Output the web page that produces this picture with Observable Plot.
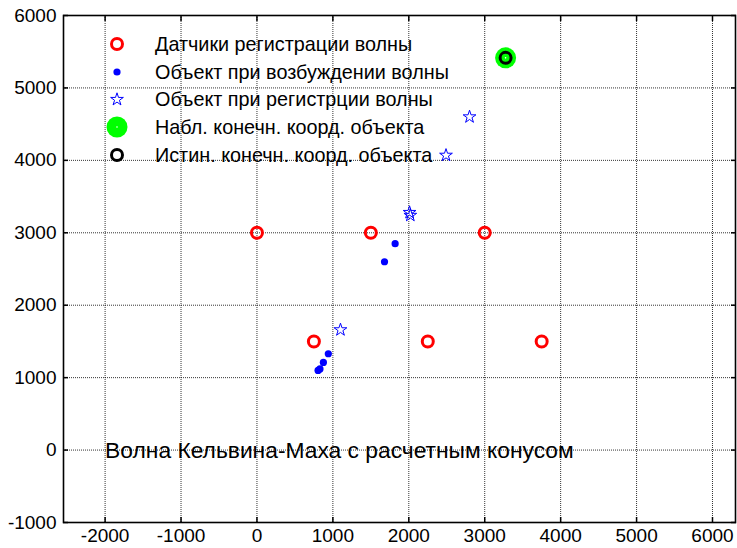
<!DOCTYPE html>
<html>
<head>
<meta charset="utf-8">
<script src="https://cdn.jsdelivr.net/npm/d3@7"></script>
<script src="https://cdn.jsdelivr.net/npm/@observablehq/plot@0.6"></script>
<style>
  html, body { margin: 0; padding: 0; background: #fff; }
  #wrap { position: relative; width: 737px; height: 548px; font-family: "Liberation Sans", Arial, sans-serif; }
  #wrap svg { display: block; }
  #legend { position: absolute; left: 0; top: 0; pointer-events: none; }
</style>
</head>
<body>
<div id="wrap"></div>
<script>
// Sensors (датчики регистрации волны)
const sensorX = [0, 1500, 3000, 750, 2250, 3750];
const sensorY = [3000, 3000, 3000, 1500, 1500, 1500];
// Object at wave excitation
const exciteX = [1820, 1680, 940, 875, 830, 805];
const exciteY = [2850, 2600, 1330, 1210, 1120, 1100];
// Object at wave registration
const registerX = [2010, 2020, 1100, 2490, 2800];
const registerY = [3280, 3240, 1660, 4070, 4600];
// Observed / true final coordinates
const observedX = [3275];
const observedY = [5415];
const trueX = [3275];
const trueY = [5415];
const xTicks = [-2000, -1000, 0, 1000, 2000, 3000, 4000, 5000, 6000];
const yTicks = [-1000, 0, 1000, 2000, 3000, 4000, 5000, 6000];
const legendLabels = [
  "Датчики регистрации волны",
  "Объект при возбуждении волны",
  "Объект при регистрции волны",
  "Набл. конечн. коорд. объекта",
  "Истин. конечн. коорд. объекта"
];
const annotation = "Волна Кельвина-Маха с расчетным конусом";

const pts = (xs, ys) => xs.map((x, i) => ({x, y: ys[i]}));

const chart = Plot.plot({
  width: 737,
  height: 548,
  marginLeft: 63,
  marginRight: 2,
  marginTop: 15,
  marginBottom: 26,
  style: {fontFamily: "Liberation Sans, Arial, sans-serif", fontSize: "19px", color: "#000", background: "#fff"},
  x: {domain: [-2548, 6303], ticks: xTicks, label: null},
  y: {domain: [-1000, 6000], ticks: yTicks, label: null},
  marks: [
    Plot.gridX(xTicks, {stroke: "#000", strokeOpacity: 0.8, strokeDasharray: "1,1"}),
    Plot.gridY(yTicks, {stroke: "#000", strokeOpacity: 0.8, strokeDasharray: "1,1"}),
    Plot.axisX(xTicks, {anchor: "bottom", label: null, tickSize: 0, tickPadding: 6, fontSize: 19, tickFormat: d => String(d)}),
    Plot.axisY(yTicks, {anchor: "left", label: null, tickSize: 0, tickPadding: 7, fontSize: 19, tickFormat: d => String(d)}),
    Plot.axisX(xTicks, {anchor: "bottom", label: null, tickSize: -5, text: null, strokeWidth: 1.5}),
    Plot.axisX(xTicks, {anchor: "top", label: null, tickSize: -5, text: null, strokeWidth: 1.5}),
    Plot.axisY(yTicks, {anchor: "left", label: null, tickSize: -5, text: null, strokeWidth: 1.5}),
    Plot.axisY(yTicks, {anchor: "right", label: null, tickSize: -5, text: null, strokeWidth: 1.5}),
    Plot.frame({stroke: "#000", strokeWidth: 1.6}),
    Plot.text([annotation], {x: -2000, y: 0, text: d => d, textAnchor: "start", fontSize: 22.8, fill: "#000", dy: 1}),
    Plot.dot(pts(sensorX, sensorY), {x: "x", y: "y", r: 5.5, stroke: "#ff0000", strokeWidth: 3, fill: "none"}),
    Plot.dot(pts(exciteX, exciteY), {x: "x", y: "y", r: 3.6, fill: "#0000ff", stroke: "none"}),
    Plot.dot(pts(registerX, registerY), {x: "x", y: "y", r: 4, symbol: "star", stroke: "#0000ff", strokeWidth: 1, fill: "none"}),
    Plot.dot(pts(observedX, observedY), {x: "x", y: "y", r: 10.5, fill: "#00ff00", stroke: "none"}),
    Plot.dot(pts(trueX, trueY), {x: "x", y: "y", r: 5.5, stroke: "#000", strokeWidth: 3, fill: "none"}),
    Plot.dot(pts(observedX, observedY), {x: "x", y: "y", r: 0.8, fill: "#fff", stroke: "none"})
  ]
});

const wrap = document.getElementById("wrap");
wrap.appendChild(chart);

// Legend (no box), drawn as an overlay
const lg = d3.select(wrap).append("svg").attr("id", "legend").attr("width", 737).attr("height", 548);
const rowY = [44, 72, 99.5, 127, 155];
const mx = 117, tx = 155;
const sym = [
  g => g.append("circle").attr("r", 5.5).attr("fill", "none").attr("stroke", "#ff0000").attr("stroke-width", 3),
  g => g.append("circle").attr("r", 3.6).attr("fill", "#0000ff"),
  g => g.append("path").attr("d", d3.symbol(d3.symbolStar, Math.PI * 4 * 4)()).attr("fill", "none").attr("stroke", "#0000ff").attr("stroke-width", 1),
  g => { g.append("circle").attr("r", 10.5).attr("fill", "#00ff00"); g.append("circle").attr("r", 0.8).attr("fill", "#fff"); },
  g => g.append("circle").attr("r", 5.5).attr("fill", "none").attr("stroke", "#000").attr("stroke-width", 3)
];
legendLabels.forEach((label, i) => {
  const g = lg.append("g").attr("transform", `translate(${mx},${rowY[i]})`);
  sym[i](g);
  lg.append("text").attr("x", tx).attr("y", rowY[i]).attr("dy", "0.35em")
    .attr("font-size", 19.8).attr("font-family", "Liberation Sans, Arial, sans-serif").attr("fill", "#000").text(label);
});
</script>
</body>
</html>
